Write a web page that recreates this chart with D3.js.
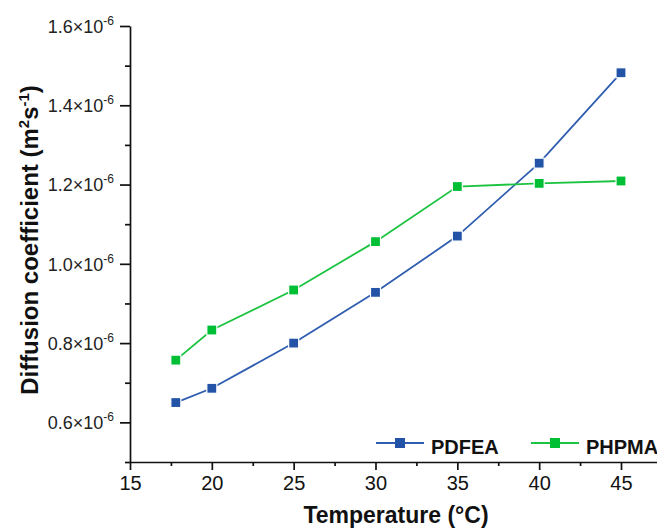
<!DOCTYPE html>
<html>
<head>
<meta charset="utf-8">
<script src="https://cdn.jsdelivr.net/npm/d3@7"></script>
<style>
	body { margin: 0; background: #fff; }
	svg { display: block; }
</style>
</head>
<body>
<div id="chart"></div>
<script>
const temperature = [17.8, 20, 25, 30, 35, 40, 45];
const pdfea = [0.650, 0.686, 0.800, 0.928, 1.070, 1.254, 1.482];
const phpma = [0.757, 0.833, 0.934, 1.056, 1.195, 1.203, 1.209];
const xMajor = [15, 20, 25, 30, 35, 40, 45];
const xMinor = [17.5, 22.5, 27.5, 32.5, 37.5, 42.5];
const yMajor = [0.6, 0.8, 1.0, 1.2, 1.4, 1.6];
const yMinor = [0.5, 0.7, 0.9, 1.1, 1.3, 1.5];

const width = 657, height = 528;

const series = [
	{ name: 'PDFEA', values: pdfea, line: '#2f5db0', fill: '#2353a6' },
	{ name: 'PHPMA', values: phpma, line: '#1cc341', fill: '#00bf35' }
];

const svg = d3.select('#chart').append('svg')
	.attr('width', width)
	.attr('height', height);

let x = d3.scaleLinear().domain([15, 47.2]).range([130, 657]);
let y = d3.scaleLinear().domain([0.5, 1.6]).range([462, 26]);

// x axis
let xAxis = svg.append('g')
	.attr('transform', `translate(0, ${y(0.5)})`)
	.call(d3.axisBottom(x).tickValues(xMajor).tickSize(8).tickSizeOuter(0).tickPadding(6));

svg.append('g')
	.attr('transform', `translate(0, ${y(0.5)})`)
	.call(d3.axisBottom(x).tickValues(xMinor).tickSize(4).tickSizeOuter(0).tickFormat(''))
	.select('.domain').remove();

xAxis.selectAll('text')
	.style('font-family', '"Liberation Sans Narrow", "Arial Narrow", sans-serif')
	.style('font-size', '20px')
	.attr('fill', '#111');

// y axis
let yAxis = svg.append('g')
	.attr('transform', `translate(${x(15)}, 0)`)
	.call(d3.axisLeft(y).tickValues(yMajor).tickSize(10).tickSizeOuter(0).tickFormat(''));

svg.append('g')
	.attr('transform', `translate(${x(15)}, 0)`)
	.call(d3.axisLeft(y).tickValues(yMinor).tickSize(5).tickSizeOuter(0).tickFormat(''))
	.select('.domain').remove();

svg.selectAll('.domain, .tick line')
	.attr('stroke', '#111')
	.attr('stroke-width', 1.7);

let yLabels = yAxis.selectAll('.tick')
	.append('text')
	.attr('x', -16)
	.attr('y', 0)
	.attr('dy', '0.35em')
	.attr('text-anchor', 'end')
	.attr('fill', '#222')
	.style('font-family', '"Liberation Sans", Arial, sans-serif')
	.style('font-size', '18px');

yLabels.append('tspan').text(d => d.toFixed(1) + '×10');
yLabels.append('tspan')
	.attr('dy', -8)
	.style('font-size', '12px')
	.text('-6');

// lines and markers
let line = d3.line()
	.x((d, i) => x(temperature[i]))
	.y(d => y(d));

series.forEach(s => {
	svg.append('path')
		.datum(s.values)
		.attr('fill', 'none')
		.attr('stroke', s.line)
		.attr('stroke-width', 1.8)
		.attr('d', line);

	svg.selectAll('.pt-' + s.name)
		.data(s.values)
		.enter()
		.append('rect')
		.attr('class', 'pt-' + s.name)
		.attr('x', (d, i) => x(temperature[i]) - 5)
		.attr('y', d => y(d) - 5)
		.attr('width', 10)
		.attr('height', 10)
		.attr('fill', s.fill)
		.attr('stroke', '#fff')
		.attr('stroke-width', 1.2);
});

// legend
let legendX = [376, 531];
let legend = svg.selectAll('.legend')
	.data(series)
	.enter()
	.append('g')
	.attr('class', 'legend')
	.attr('transform', (d, i) => `translate(${legendX[i]}, 443)`);

legend.append('line')
	.attr('x1', 0).attr('x2', 48)
	.attr('stroke', d => d.line)
	.attr('stroke-width', 1.8);

legend.append('rect')
	.attr('x', 19).attr('y', -5)
	.attr('width', 10).attr('height', 10)
	.attr('fill', d => d.fill);

legend.append('text')
	.attr('x', 55)
	.attr('y', 11)
	.style('font-family', '"Liberation Sans", Arial, sans-serif')
	.style('font-size', '20px')
	.style('font-weight', 'bold')
	.attr('fill', '#111')
	.text(d => d.name);

// axis titles
svg.append('text')
	.attr('x', 396)
	.attr('y', 523)
	.attr('text-anchor', 'middle')
	.style('font-family', '"Liberation Sans", Arial, sans-serif')
	.style('font-size', '23px')
	.style('font-weight', 'bold')
	.attr('fill', '#111')
	.text('Temperature (°C)');

let yTitle = svg.append('text')
	.attr('transform', 'translate(38, 240) rotate(-90)')
	.attr('text-anchor', 'middle')
	.style('font-family', '"Liberation Sans", Arial, sans-serif')
	.style('font-size', '24px')
	.style('font-weight', 'bold')
	.attr('fill', '#111');

yTitle.append('tspan').text('Diffusion coefficient (m');
yTitle.append('tspan').attr('dy', -9).style('font-size', '15px').text('2');
yTitle.append('tspan').attr('dy', 9).text('s');
yTitle.append('tspan').attr('dy', -9).style('font-size', '15px').text('-1');
yTitle.append('tspan').attr('dy', 9).text(')');
</script>
</body>
</html>
